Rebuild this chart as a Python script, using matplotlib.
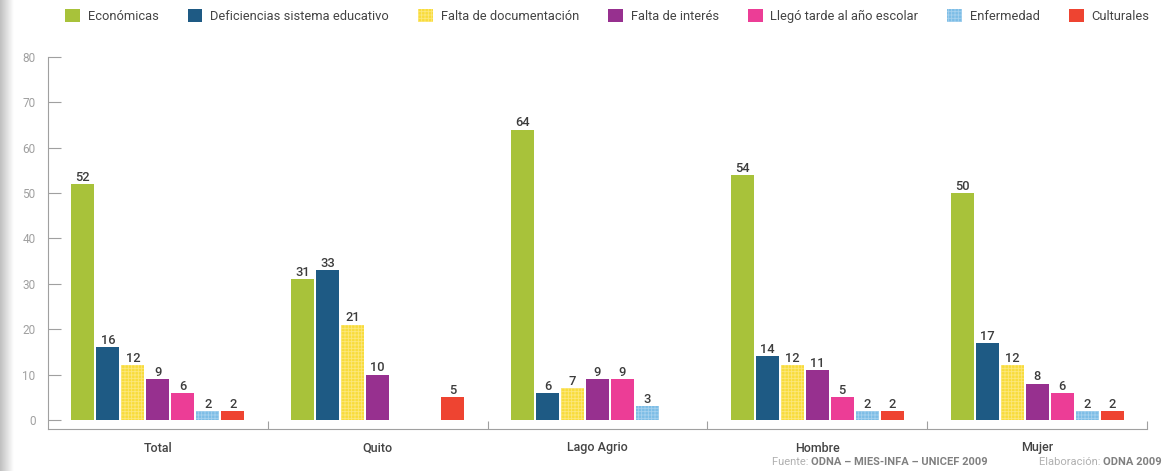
import numpy as np
import matplotlib
matplotlib.use("Agg")
import matplotlib.pyplot as plt

# datos
grupos = ["Total", "Quito", "Lago Agrio", "Hombre", "Mujer"]
causas = ["Económicas", "Deficiencias sistema educativo", "Falta de documentación",
          "Falta de interés", "Llegó tarde al año escolar", "Enfermedad", "Culturales"]
economicas = [52, 31, 64, 54, 50]
deficiencias = [16, 33, 6, 14, 17]
documentacion = [12, 21, 7, 12, 12]
interes = [9, 10, 9, 11, 8]
tarde = [6, np.nan, 9, 5, 6]
enfermedad = [2, np.nan, 3, 2, 2]
culturales = [2, 5, np.nan, 2, 2]
series = [economicas, deficiencias, documentacion, interes, tarde, enfermedad, culturales]

colores = ["#a8c23a", "#1e5a84", "#f8dc3a", "#97308f", "#ec3d96", "#7cbde6", "#ee4431"]
tramas = [None, None, "+++++", None, None, "+++++", None]
trama_color = [None, None, "#fce77c", None, None, "#a6d1ee", None]

plt.rcParams['font.family'] = ['Roboto', 'DejaVu Sans']
plt.rcParams['hatch.linewidth'] = 0.6

fig = plt.figure(figsize=(11.65, 4.71), dpi=100)
ax = fig.add_axes([48 / 1165, 42 / 471, (1147 - 48) / 1165, 372 / 471])

x = np.arange(len(grupos))
paso = 25 / 219.8
ancho = 23 / 219.8
gris = "#a0a0a0"

for k, (vals, col) in enumerate(zip(series, colores)):
    pos = x + (k - 3) * paso
    if tramas[k]:
        kw = dict(hatch=tramas[k], edgecolor=trama_color[k], linewidth=0)
    else:
        kw = dict(linewidth=0)
    ax.bar(pos, vals, ancho, color=col, label=causas[k], **kw)
    for xi, v in zip(pos, vals):
        if not np.isnan(v):
            ax.text(xi, v + 0.7, f"{v:.0f}", ha="center", va="baseline",
                    fontsize=9.3, color="#3c3c3c", fontweight="medium")

ax.set_xlim(-0.5, 4.5)
ax.set_ylim(-2, 80)
ax.set_yticks(range(0, 81, 10))
ax.tick_params(axis="y", direction="in", length=9, width=0.8, color=gris,
               labelcolor=gris, labelsize=8.5, pad=9)
ax.set_xticks(x)
ax.set_xticklabels(grupos, fontweight="medium")
ax.tick_params(axis="x", which="major", length=0, labelsize=9,
               labelcolor="#444444", pad=9)
ax.set_xticks(np.arange(0.5, 5, 1), minor=True)
ax.tick_params(axis="x", which="minor", direction="in", length=6, width=0.8, color=gris)

for s in ["top", "right"]:
    ax.spines[s].set_visible(False)
for s in ["left", "bottom"]:
    ax.spines[s].set_color(gris)
    ax.spines[s].set_linewidth(0.8)

fig.legend(loc="upper left", bbox_to_anchor=(56 / 1165, 1.0), ncol=7, frameon=False,
           handlelength=1.15, handleheight=1.15, handletextpad=0.6, columnspacing=2.25,
           fontsize=9.3, labelcolor="#444444", borderaxespad=0.3)

# pie de fuente
t1 = fig.text(988 / 1165, 4 / 471, "ODNA – MIES-INFA – UNICEF 2009", ha="right",
              va="bottom", fontsize=8, color="#808080", fontweight="bold")
ax.annotate("Fuente: ", xy=(0, 0), xycoords=t1, ha="right", va="bottom",
            fontsize=8, color="#b0b0b0")
t2 = fig.text(1162 / 1165, 4 / 471, "ODNA 2009", ha="right", va="bottom",
              fontsize=8, color="#808080", fontweight="bold")
ax.annotate("Elaboración: ", xy=(0, 0), xycoords=t2, ha="right", va="bottom",
            fontsize=8, color="#b0b0b0")

# sombra del lomo
sombra = fig.add_axes([0, 0, 14 / 1165, 1])
sombra.imshow(np.linspace(0.75, 1, 50).reshape(1, -1), cmap="gray", vmin=0, vmax=1,
              aspect="auto", extent=[0, 1, 0, 1])
sombra.axis("off")

fig.savefig("out.png", dpi=100)
